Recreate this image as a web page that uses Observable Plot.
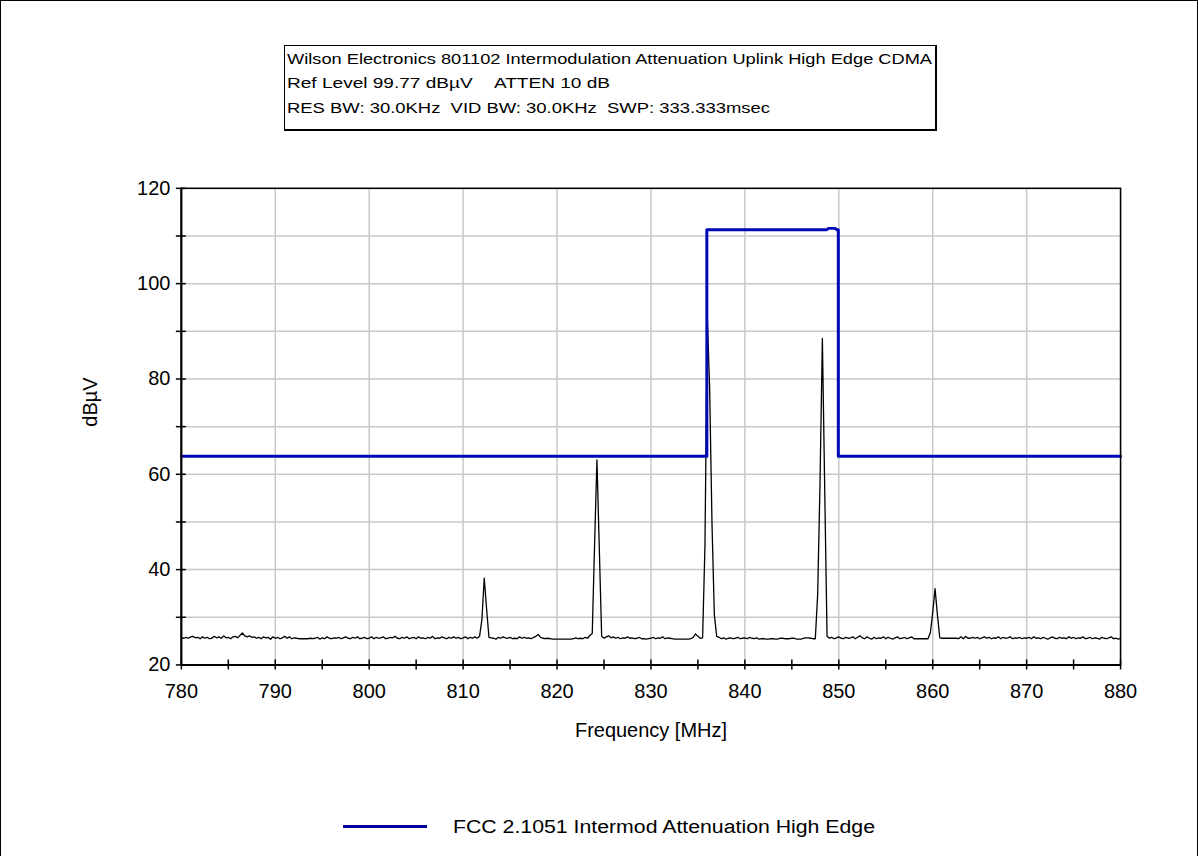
<!DOCTYPE html>
<html>
<head>
<meta charset="utf-8">
<script src="https://cdn.jsdelivr.net/npm/d3@7"></script>
<script src="https://cdn.jsdelivr.net/npm/@observablehq/plot@0.6"></script>
<style>
  html, body { margin: 0; padding: 0; background: #fff; }
  #wrap { position: relative; width: 1198px; height: 856px; box-sizing: border-box;
          border: 1px solid #000; border-bottom: none; overflow: hidden;
          font-family: "Liberation Sans", Arial, sans-serif; color: #000; }
  #chart { position: absolute; left: -1px; top: -1px; }
  #titlebox { position: absolute; left: 283px; top: 44px; width: 650px; height: 83px;
              border: 1px solid #000; border-right-width: 2px; border-bottom-width: 2px; background: #fff; }
  .tl { position: absolute; left: 2px; white-space: nowrap; font-size: 15px; line-height: 15px;
        transform-origin: 0 50%; }
  #legend { position: absolute; left: 342px; top: 814px; height: 24px; width: 600px; }
  #legline { position: absolute; left: 0; top: 10px; width: 84px; height: 3px; background: #00009a; }
  #legtext { position: absolute; left: 110px; top: 2px; white-space: nowrap; font-size: 18px; line-height: 20px;
             transform-origin: 0 50%; }
</style>
</head>
<body>
<div id="wrap">
  <div id="chart"></div>
  <div id="titlebox">
    <span class="tl" id="t1" style="top:5px"></span>
    <span class="tl" id="t2" style="top:29px"></span>
    <span class="tl" id="t3" style="top:54px"></span>
  </div>
  <div id="legend"><div id="legline"></div><span id="legtext"></span></div>
</div>
<script>
// ---- text ----
const titleLines = [
  "Wilson Electronics 801102 Intermodulation Attenuation Uplink High Edge CDMA",
  "Ref Level 99.77 dB\u00b5V\u00a0\u00a0\u00a0\u00a0ATTEN 10 dB",
  "RES BW: 30.0KHz\u00a0\u00a0VID BW: 30.0KHz\u00a0\u00a0SWP: 333.333msec"
];
const xLabel = "Frequency [MHz]";
const yLabel = "dB\u00b5V";
const legendLabel = "FCC 2.1051 Intermod Attenuation High Edge";

// ---- axes ----
const xTicks = [780,785,790,795,800,805,810,815,820,825,830,835,840,845,850,855,860,865,870,875,880];
const xGridVals = [780,790,800,810,820,830,840,850,860,870,880];
const yTicks = [20,30,40,50,60,70,80,90,100,110,120];

// ---- measured trace (dBµV), sweep 780–880 MHz, 0.25 MHz per point ----
const traceStart = 780;
const traceStep = 0.25;
const traceValues = [
  // 780–790
  25.7,25.6,25.8,25.6,25.9,26.0,25.7,25.8,25.5,25.9,25.6,25.8,25.5,25.6,26.0,25.7,25.9,25.6,26.1,25.7,
  25.8,25.5,25.9,26.0,25.7,26.2,26.7,26.1,25.9,26.1,25.8,25.9,25.6,25.8,25.5,25.9,25.7,25.8,25.4,25.9,
  // 790–800
  25.6,25.8,25.5,25.7,26.0,25.6,25.9,25.5,25.7,25.6,25.5,25.5,25.5,25.5,25.5,25.6,25.5,25.6,25.8,25.4,
  25.7,25.5,25.9,25.6,25.5,25.7,25.6,25.8,25.5,25.7,25.9,25.6,25.5,25.8,25.6,25.9,25.5,25.6,25.8,25.5,
  // 800–810
  25.6,25.9,25.5,25.8,25.6,25.7,25.9,25.5,25.6,25.8,25.7,26.0,25.6,25.5,25.8,25.6,25.9,25.5,25.7,25.8,
  25.5,25.9,25.6,25.7,25.5,25.8,25.6,26.0,25.5,25.7,25.6,25.9,25.7,25.5,25.8,25.6,25.9,25.6,25.8,25.5,
  // 810–820
  25.7,25.9,25.5,25.8,25.6,25.9,25.6,26.0,29.5,38.2,31.8,25.8,25.7,25.6,25.4,25.8,25.6,25.9,25.7,25.6,
  25.8,25.5,25.6,25.5,25.9,25.6,25.8,25.6,25.7,25.5,25.8,26.0,26.4,25.8,25.6,25.5,25.6,25.5,25.4,25.4,
  // 820–830
  25.4,25.4,25.4,25.4,25.4,25.4,25.4,25.5,25.7,25.5,25.6,25.5,25.8,25.6,26.2,26.6,45.5,63.0,44.5,26.0,
  25.6,25.9,26.1,25.7,25.9,25.6,25.8,25.5,25.7,25.6,25.9,25.6,25.7,25.5,25.6,25.8,25.5,25.5,25.4,25.5,
  // 830–840
  25.6,25.8,25.5,25.7,25.6,25.9,25.5,25.7,25.6,25.5,25.4,25.4,25.4,25.4,25.4,25.4,25.4,25.5,25.8,26.5,
  26.0,25.6,25.7,45.0,93.0,78.0,49.5,30.5,26.0,25.8,25.5,25.7,25.4,25.6,25.7,25.5,25.6,25.8,25.5,25.6,
  // 840–850
  25.7,25.5,25.8,25.6,25.5,25.7,25.4,25.5,25.5,25.4,25.4,25.5,25.5,25.4,25.4,25.6,25.6,25.5,25.5,25.5,
  25.6,25.6,25.4,25.4,25.4,25.6,25.7,25.7,25.6,25.5,25.5,34.8,58.0,88.5,57.0,26.0,25.6,25.8,25.5,25.7,
  // 850–860
  25.9,25.6,25.5,25.8,25.6,25.7,25.9,25.5,25.8,26.1,25.7,25.5,25.9,25.6,25.4,25.8,25.5,25.7,25.6,25.9,
  25.5,25.8,25.6,25.4,25.7,25.9,25.5,25.6,25.8,25.5,25.7,25.9,25.5,25.5,25.5,25.5,25.5,25.5,25.5,26.8,
  // 860–870
  31.0,36.0,30.5,25.7,25.6,25.6,25.6,25.6,25.6,25.6,25.6,25.5,25.9,25.5,26.0,25.6,25.6,25.8,25.6,25.8,
  25.5,25.7,25.9,25.6,25.8,25.5,25.7,25.6,25.9,25.5,25.8,25.6,25.7,25.9,25.5,25.7,25.6,25.8,25.5,25.7,
  // 870–880
  25.6,25.8,25.5,25.9,25.6,25.7,25.5,25.8,25.6,25.4,25.7,25.9,25.6,25.5,25.8,25.6,25.7,25.5,25.9,25.6,
  25.8,25.5,25.7,25.6,25.9,25.5,25.6,25.8,25.5,25.7,25.6,25.4,25.8,25.6,25.5,25.7,25.9,25.5,25.6,25.4,
  25.6
];

// ---- limit line (FCC 2.1051 Intermod Attenuation High Edge) ----
const limitFreq  = [780, 835.95, 835.95, 848.7, 848.9, 849.6, 849.8, 849.95, 849.95, 880];
const limitLevel = [63.8, 63.8, 111.3, 111.3, 111.6, 111.6, 111.3, 111.3, 63.8, 63.8];

const trace = traceValues.map((v, i) => ({f: traceStart + i * traceStep, v}));
const limit = limitFreq.map((f, i) => ({f, v: limitLevel[i]}));

const limitColor = "#0008b8";

const chart = Plot.plot({
  width: 1198,
  height: 856,
  marginLeft: 181,
  marginRight: 77,
  marginTop: 188,
  marginBottom: 191,
  style: {fontFamily: "'Liberation Sans', Arial, sans-serif", fontSize: "20px", color: "#000", background: "transparent"},
  x: {domain: [780, 880], label: null},
  y: {domain: [20, 120], label: null},
  marks: [
    Plot.gridX(xGridVals, {stroke: "#c8c8c8", strokeOpacity: 1, strokeWidth: 1.5}),
    Plot.gridY(yTicks, {stroke: "#c8c8c8", strokeOpacity: 1, strokeWidth: 1.5}),
    Plot.line(trace, {x: "f", y: "v", stroke: "#000", strokeWidth: 1.3}),
    Plot.line(limit, {x: "f", y: "v", stroke: limitColor, strokeWidth: 3}),
    Plot.frame({stroke: "#000", strokeWidth: 1.5}),
    Plot.ruleX([780], {stroke: "#000", strokeWidth: 2}),
    Plot.ruleY([20], {stroke: "#000", strokeWidth: 2}),
    Plot.axisX(xTicks, {tickSize: 5, tickPadding: 14, strokeWidth: 1.5, tickFormat: d => d % 10 === 0 ? String(d) : ""}),
    Plot.tickX(xTicks, {x: d => d, insetTop: 472, stroke: "#000", strokeWidth: 1.5}),
    Plot.axisY(yTicks, {tickSize: 5, tickPadding: 6, strokeWidth: 1.5, tickFormat: d => d % 20 === 0 ? String(d) : ""}),
    Plot.tickY(yTicks, {y: d => d, insetRight: 935, stroke: "#000", strokeWidth: 1.5}),
    Plot.text([xLabel], {frameAnchor: "bottom", dy: 72, text: d => d, fontSize: 20}),
    Plot.text([yLabel], {frameAnchor: "left", dx: -91, rotate: -90, text: d => d, fontSize: 20})
  ]
});
document.getElementById("chart").append(chart);

// ---- title box and legend ----
const targets = [645, 323, 483];
titleLines.forEach((t, i) => {
  const el = document.getElementById("t" + (i + 1));
  el.textContent = t;
  const w = el.getBoundingClientRect().width;
  el.style.transform = `scaleX(${targets[i] / w})`;
});
const lt = document.getElementById("legtext");
lt.textContent = legendLabel;
{
  const w = lt.getBoundingClientRect().width;
  lt.style.transform = `scaleX(${422 / w})`;
}
</script>
</body>
</html>
